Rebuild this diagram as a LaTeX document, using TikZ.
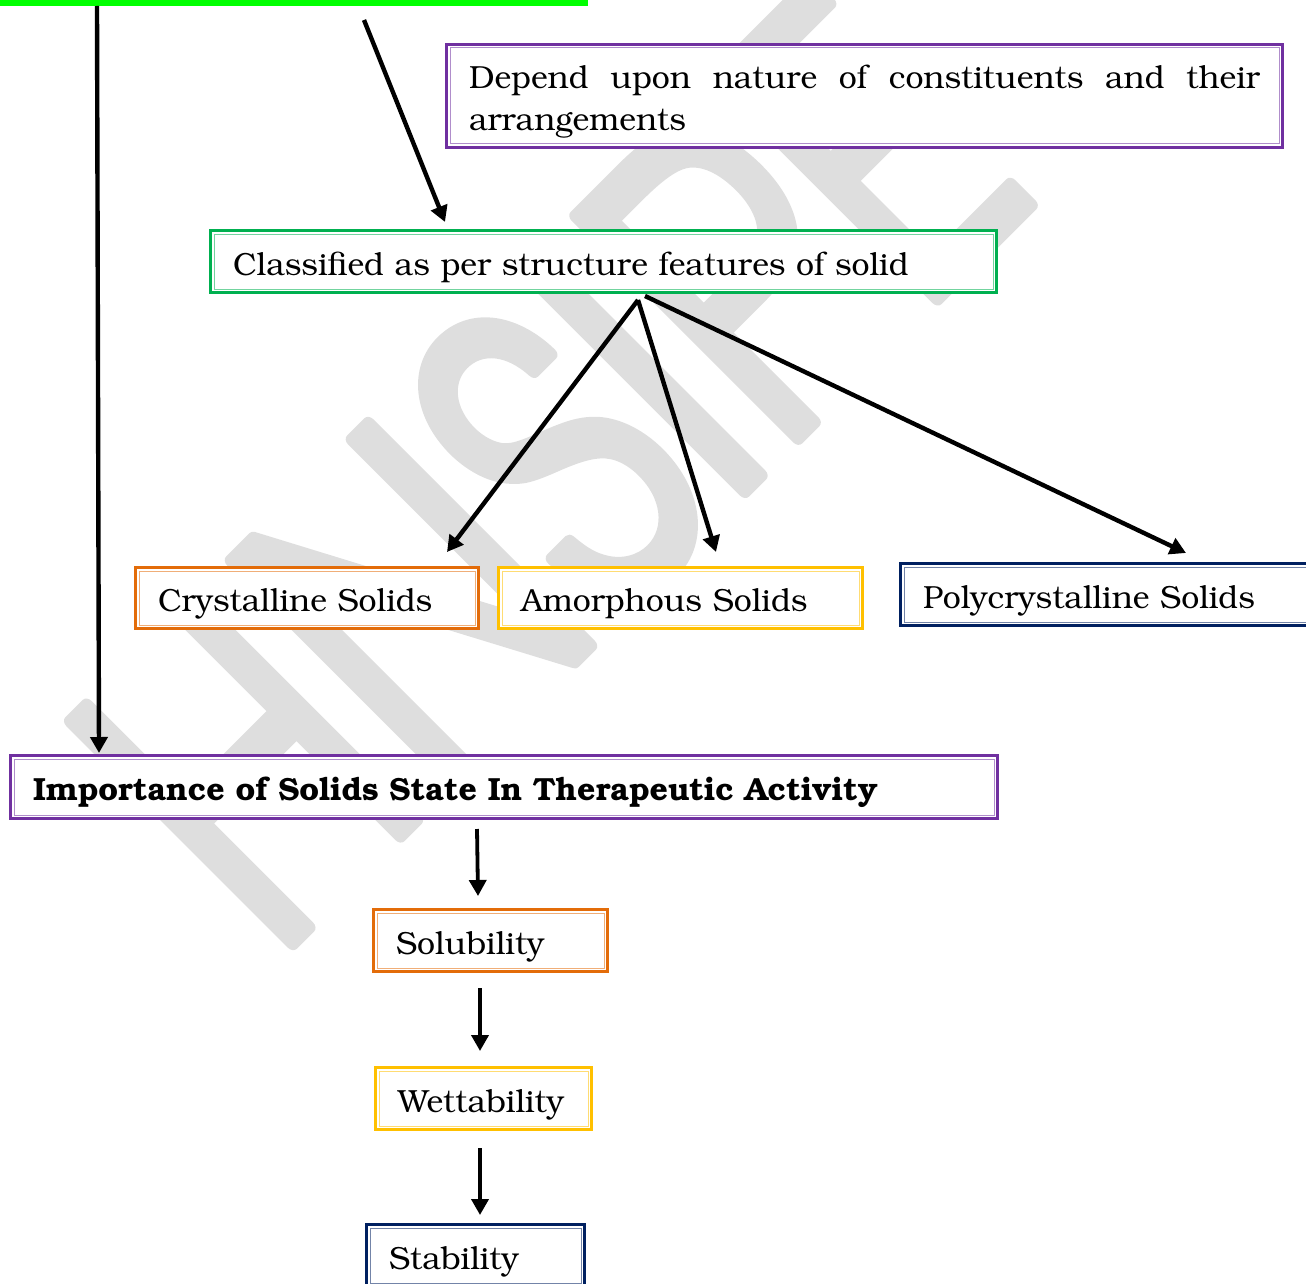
\documentclass[tikz,border=0pt]{standalone}
\usepackage[T1]{fontenc}
\usepackage{bookman}
\usetikzlibrary{arrows.meta,calc}

\definecolor{wmgray}{HTML}{DEDEDE}
\definecolor{boxpurple}{HTML}{7030A0}
\definecolor{boxgreen}{HTML}{00B050}
\definecolor{boxorange}{HTML}{E36C09}
\definecolor{boxgold}{HTML}{FFC000}
\definecolor{boxnavy}{HTML}{002060}
\definecolor{brightgreen}{HTML}{00FF00}

\tikzset{
  dbox/.style={rectangle, draw=#1, line width=1.75pt, fill=white, anchor=north west,
    outer sep=0pt, inner xsep=11.25pt, inner ysep=0pt, align=left,
    font=\fontsize{16}{21}\selectfont,
    path picture={\draw[#1!55, line width=0.5pt]
      ([shift={(1.75pt,-1.75pt)}]path picture bounding box.north west) rectangle
      ([shift={(-1.75pt,1.75pt)}]path picture bounding box.south east);}},
  oneline/.style={text height=15.3pt, text depth=1.6pt},
  arr/.style={line width=2.2pt, -{Triangle[length=8pt,width=8.5pt]}},
  sarr/.style={line width=1.9pt, -{Triangle[length=8pt,width=8.5pt]}},
}

% filled and stroked outline letters for the background mark
\newcommand{\softletters}[1]{%
  \special{pdf:literal 2 Tr 1 J 1 j 7 w}#1\special{pdf:literal 0 Tr}}

\begin{document}
\begin{tikzpicture}[x=0.5pt, y=-0.5pt]
\useasboundingbox (0,0) rectangle (1306,1284);
\clip (0,0) rectangle (1306,1284);

% background mark
\node[wmgray, rotate=45, inner sep=0pt,
  font=\fontsize{212}{212}\fontfamily{pag}\fontseries{m}\selectfont]
  (mark) at (549,466) {\softletters{\scalebox{0.785}[1]{HNSIPE}}};

% source box, only its lower edge falls inside the page
\node[rectangle, draw=brightgreen, line width=3pt, anchor=south west, outer sep=0pt,
  minimum width=304pt, minimum height=50pt, inner sep=0pt] (src) at (-23,3) {};

\node[dbox=boxpurple, minimum width=418pt, minimum height=51.5pt, text width=395.5pt,
  align=justify] (dep) at (446.5,44.5)
  {\rule{0pt}{17pt}Depend upon nature of constituents and their\linebreak arrangements};

\node[dbox=boxgreen, oneline, minimum width=393pt, minimum height=31pt, text width=370.5pt]
  (cls) at (210.5,230.5) {Classified as per structure features of solid};

\node[dbox=boxorange, oneline, minimum width=171.5pt, minimum height=30.5pt, text width=149pt]
  (cry) at (135.5,567.5) {Crystalline Solids};
\node[dbox=boxgold, oneline, minimum width=182pt, minimum height=30.5pt, text width=159.5pt]
  (amo) at (498.5,567.5) {Amorphous Solids};
\node[dbox=boxnavy, oneline, minimum width=220pt, minimum height=31pt, text width=197.5pt]
  (pol) at (900.5,563.5) {Polycrystalline Solids};

\node[dbox=boxpurple, oneline, minimum width=493.5pt, minimum height=31.5pt, text width=471pt]
  (imp) at (10.5,755.5) {\bfseries Importance of Solids State In Therapeutic Activity};

\node[dbox=boxorange, oneline, minimum width=117pt, minimum height=31pt, text width=94.5pt]
  (sol) at (373.5,909.5) {Solubility};
\node[dbox=boxgold, oneline, minimum width=108pt, minimum height=31pt, text width=85.5pt]
  (wet) at (375.5,1067.5) {Wettability};
\node[dbox=boxnavy, oneline, minimum width=109pt, minimum height=31pt, text width=86.5pt]
  (sta) at (366.5,1224.5) {Stability};

% connectors
\draw[arr] ($(src.south west)+(120,3)$) -- ($(imp.north west)+(88.5,-2.5)$);
\draw[arr] ($(src.south west)+(387,17)$) -- ($(cls.north west)+(234.5,-8.5)$);
\coordinate (fork) at ($(cls.south west)+(427.5,7.5)$);
\draw[arr] (fork) -- ($(cry.north west)+(311.5,-15.5)$);
\draw[arr] (fork) -- ($(amo.north west)+(217.5,-15.5)$);
\draw[arr] ($(cls.south west)+(434.5,3.5)$) -- ($(pol.north west)+(285.5,-10.5)$);
\draw[sarr] ($(imp.south west)+(466.5,10.5)$) -- ($(sol.north west)+(104.5,-13.5)$);
\draw[sarr] ($(sol.south west)+(106.5,16.5)$) -- ($(wet.north west)+(104.5,-16.5)$);
\draw[sarr] ($(wet.south west)+(104.5,18.5)$) -- ($(sta.north west)+(113.5,-9.5)$);
\end{tikzpicture}
\end{document}
